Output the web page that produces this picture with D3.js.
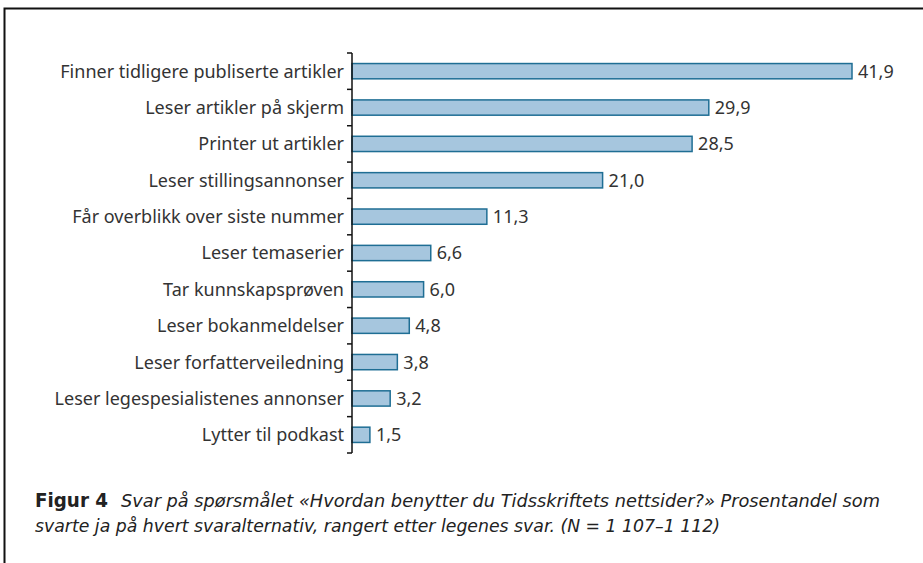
<!DOCTYPE html>
<html>
<head>
<meta charset="utf-8">
<script src="https://cdn.jsdelivr.net/npm/d3@7"></script>
<style>
  body { margin: 0; background: #fff; }
  svg text { font-family: "Noto Sans", sans-serif; }
</style>
</head>
<body>
<div id="chart"></div>
<script>
// data
var categories = ["Finner tidligere publiserte artikler", "Leser artikler på skjerm", "Printer ut artikler",
    "Leser stillingsannonser", "Får overblikk over siste nummer", "Leser temaserier", "Tar kunnskapsprøven",
    "Leser bokanmeldelser", "Leser forfatterveiledning", "Leser legespesialistenes annonser", "Lytter til podkast"];
var values = [41.9, 29.9, 28.5, 21.0, 11.3, 6.6, 6.0, 4.8, 3.8, 3.2, 1.5];
var captionBold = "Figur 4";
var captionLines = ["Svar på spørsmålet «Hvordan benytter du Tidsskriftets nettsider?» Prosentandel som",
    "svarte ja på hvert svaralternativ, rangert etter legenes svar. (N = 1 107–1 112)"];

var W = 923, H = 563;
var svg = d3.select("#chart").append("svg")
    .attr("width", W).attr("height", H);

// frame (top + left lines)
svg.append("path")
    .attr("d", "M4.5," + H + "V8.5H" + W)
    .attr("fill", "none").attr("stroke", "#111").attr("stroke-width", 2);

var x = d3.scaleLinear().domain([0, 41.9]).range([352, 852]);
var y = d3.scaleBand().domain(categories).range([53, 453]).paddingInner(0.58).paddingOuter(0.29);

// bars
svg.selectAll("rect.bar")
    .data(values)
    .enter()
    .append("rect")
    .attr("class", "bar")
    .attr("x", x(0))
    .attr("y", function (d, i) { return y(categories[i]); })
    .attr("width", function (d) { return x(d) - x(0); })
    .attr("height", y.bandwidth())
    .attr("fill", "#a6c6de")
    .attr("stroke", "#1f6e94")
    .attr("stroke-width", 1.5);

// value labels
svg.selectAll("text.val")
    .data(values)
    .enter()
    .append("text")
    .attr("class", "val")
    .attr("x", function (d) { return x(d) + 6; })
    .attr("y", function (d, i) { return y(categories[i]) + y.bandwidth() / 2; })
    .attr("dy", "0.36em")
    .attr("font-size", 18)
    .attr("fill", "#333")
    .text(function (d) { return d.toFixed(1).replace(".", ","); });

// y axis: line with ticks at category boundaries
var step = y.step();
var bounds = d3.range(categories.length + 1).map(function (i) { return 53 + i * step; });
var ax = svg.append("g");
ax.append("line")
    .attr("x1", 352).attr("x2", 352)
    .attr("y1", 53).attr("y2", 453)
    .attr("stroke", "#111").attr("stroke-width", 1.5);
ax.selectAll("line.tick")
    .data(bounds)
    .enter()
    .append("line")
    .attr("class", "tick")
    .attr("x1", 347).attr("x2", 352)
    .attr("y1", function (d) { return d; }).attr("y2", function (d) { return d; })
    .attr("stroke", "#111").attr("stroke-width", 1.5);

// category labels
svg.selectAll("text.cat")
    .data(categories)
    .enter()
    .append("text")
    .attr("class", "cat")
    .attr("x", 344)
    .attr("y", function (d) { return y(d) + y.bandwidth() / 2; })
    .attr("dy", "0.36em")
    .attr("text-anchor", "end")
    .attr("font-size", 18)
    .attr("fill", "#333")
    .text(function (d) { return d; });

// caption
var capFont = "'DejaVu Sans', sans-serif";
var cap = svg.append("text")
    .attr("x", 35).attr("y", 507)
    .attr("font-size", 17)
    .style("font-family", capFont)
    .attr("fill", "#222");
cap.append("tspan").attr("font-weight", "bold").attr("font-size", 19)
    .attr("textLength", 73).attr("lengthAdjust", "spacingAndGlyphs").text(captionBold);
cap.append("tspan").attr("x", 121).attr("font-style", "italic")
    .attr("textLength", 759).attr("lengthAdjust", "spacingAndGlyphs").text(captionLines[0]);
svg.append("text")
    .attr("x", 35).attr("y", 532)
    .attr("font-size", 17)
    .attr("font-style", "italic")
    .style("font-family", capFont)
    .attr("fill", "#222")
    .attr("textLength", 685).attr("lengthAdjust", "spacingAndGlyphs")
    .text(captionLines[1]);
</script>
</body>
</html>
